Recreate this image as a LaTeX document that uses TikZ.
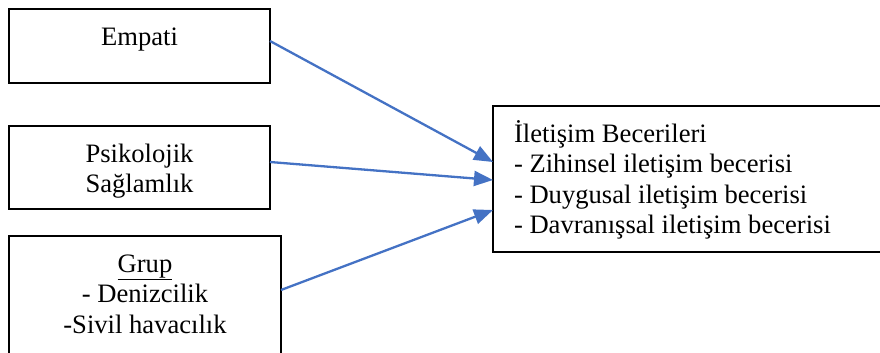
\documentclass[tikz,border=0pt]{standalone}
\usepackage{fontspec}
\setmainfont{Liberation Serif}
\usetikzlibrary{arrows.meta}
\definecolor{arrowblue}{HTML}{4472C4}

\begin{document}
\begin{tikzpicture}[x=1pt,y=-1pt,
  box/.style={draw=black, line width=1.8pt, inner xsep=0pt, inner ysep=0pt,
    outer sep=0pt, anchor=north west, font=\fontsize{26.6}{30.5}\selectfont},
  link/.style={draw=arrowblue, line width=2.3pt, -{Triangle[length=19pt,width=15pt]}}]
  \useasboundingbox (0,0) rectangle (880,353);
  \clip (0,0) rectangle (880,353);

  % input boxes
  \node[box, minimum width=261pt, text height=37pt, text depth=37pt]
    (e) at (9,9) {Empati};
  \node[box, minimum width=261pt, text height=36pt, text depth=47pt]
    (p) at (9,126) {\begin{tabular}[t]{@{}c@{}}Psikolojik\\Sağlamlık\end{tabular}};
  \node[box, minimum width=272pt, text height=36pt, text depth=150pt]
    (g) at (9,236) {\begin{tabular}[t]{@{}c@{}}\underline{Grup}\\- Denizcilik\\-Sivil havacılık\end{tabular}};

  % outcome box
  \node[box, inner xsep=21pt, text height=36pt, text depth=110pt]
    (c) at (493,106) {\makebox[380pt][l]{\begin{tabular}[t]{@{}l@{}}İletişim Becerileri\\- Zihinsel iletişim becerisi\\- Duygusal iletişim becerisi\\- Davranışsal iletişim becerisi\end{tabular}}};

  % connectors
  \draw[link] ([yshift=-32pt]e.north east) -- ([yshift=-56pt]c.north west);
  \draw[link] ([yshift=-36pt]p.north east) -- ([yshift=-74pt]c.north west);
  \draw[link] ([yshift=-54pt]g.north east) -- ([yshift=-104pt]c.north west);
\end{tikzpicture}
\end{document}
